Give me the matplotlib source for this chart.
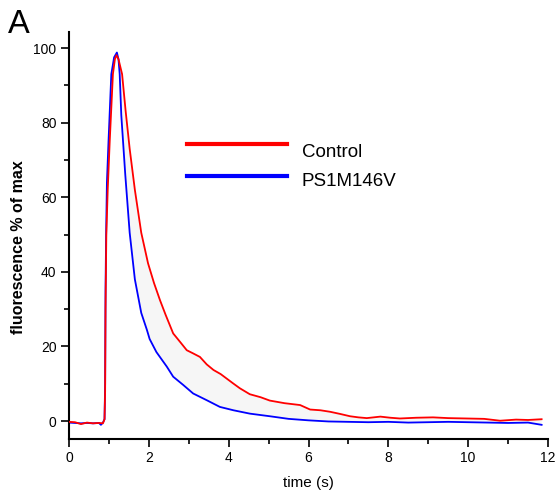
import matplotlib
matplotlib.use("Agg")
import matplotlib.pyplot as plt
import numpy as np

plt.rcParams['font.family'] = ['Liberation Sans', 'DejaVu Sans']

# Control trace (red)
ctrl_t = [0.0, 0.15, 0.3, 0.45, 0.6, 0.75, 0.85, 0.89, 0.905, 0.915, 0.935, 0.97, 1.02,
          1.10, 1.15, 1.19, 1.24, 1.33, 1.42, 1.52, 1.65, 1.81, 1.98, 2.13, 2.28, 2.42,
          2.61, 2.80, 2.95, 3.10, 3.28, 3.45, 3.62, 3.80, 3.95, 4.10, 4.28, 4.53, 4.80,
          5.03, 5.40, 5.79, 6.04, 6.30, 6.54, 6.80, 7.04, 7.25, 7.46, 7.80, 8.05, 8.29,
          8.70, 9.12, 9.50, 9.96, 10.4, 10.8, 11.2, 11.5, 11.84]
ctrl_v = [-0.2, -0.3, -0.8, -0.4, -0.6, -0.5, -0.6, 0.5, 8, 30, 50, 62, 75,
          93, 97, 98.1, 97, 93, 83, 73, 62, 50.5, 42.3, 37, 32.4, 28.5,
          23.5, 21, 19, 18.2, 17.2, 15.2, 13.7, 12.6, 11.4, 10.2, 8.8, 7.2, 6.4,
          5.5, 4.8, 4.3, 3.1, 2.9, 2.5, 1.9, 1.3, 1.0, 0.8, 1.2, 0.9, 0.7,
          0.9, 1.0, 0.8, 0.7, 0.6, 0.1, 0.4, 0.3, 0.5]

# PS1M146V trace (blue)
mut_t = [0.0, 0.15, 0.3, 0.45, 0.6, 0.75, 0.8, 0.85, 0.89, 0.905, 0.915, 0.93, 0.95,
         0.99, 1.06, 1.13, 1.20, 1.24, 1.27, 1.31, 1.41, 1.52, 1.65, 1.81, 1.95, 2.02,
         2.19, 2.45, 2.61, 2.86, 3.11, 3.45, 3.78, 4.12, 4.53, 5.03, 5.50, 6.0, 6.5,
         7.0, 7.5, 8.0, 8.5, 9.0, 9.5, 10.0, 10.5, 11.0, 11.5, 11.84]
mut_v = [-0.4, -0.5, -0.6, -0.5, -0.6, -0.5, -1.0, -0.4, 0.5, 10, 35, 50, 64,
         75, 93, 97.5, 98.8, 97, 93, 82, 66, 50.5, 38, 29, 24.5, 22,
         18.5, 14.6, 11.9, 9.7, 7.4, 5.6, 3.8, 2.9, 2.0, 1.3, 0.6, 0.2, -0.1,
         -0.2, -0.3, -0.2, -0.4, -0.3, -0.2, -0.3, -0.4, -0.5, -0.4, -1.0]

series_names = ["Control", "PS1M146V"]
series_colors = ["#ff0000", "#0000ff"]

x_ticks = [0, 2, 4, 6, 8, 10, 12]
y_ticks = [0, 20, 40, 60, 80, 100]

fig = plt.figure(figsize=(5.56, 4.91), dpi=100)
W, H = 556, 491
ax = fig.add_axes([69 / W, 1 - 439 / H, (548 - 69) / W, (439 - 32) / H])

# shaded area between the two decays
ip_c = int(np.argmax(ctrl_v))
ip_m = int(np.argmax(mut_v))
poly_x = np.concatenate([np.array(ctrl_t[ip_c:]), np.array(mut_t[ip_m:])[::-1]])
poly_y = np.concatenate([np.array(ctrl_v[ip_c:]), np.array(mut_v[ip_m:])[::-1]])
ax.fill(poly_x, poly_y, color='#f6f6f6', lw=0, zorder=1)

ax.plot(ctrl_t, ctrl_v, color=series_colors[0], lw=1.3, zorder=3)
ax.plot(mut_t, mut_v, color=series_colors[1], lw=1.3, zorder=2)

ax.set_xlim(0, 12)
ax.set_ylim(-4.8, 104.3)
ax.set_xticks(x_ticks)
ax.set_yticks(y_ticks)
ax.set_xticks(np.arange(1, 12, 2), minor=True)
ax.set_yticks(np.arange(10, 101, 20), minor=True)
ax.tick_params(which='major', direction='out', length=6, width=1.2, labelsize=10, pad=3)
ax.tick_params(which='minor', direction='out', length=3.5, width=1.2)
for s in ['top', 'right']:
    ax.spines[s].set_visible(False)
for s in ['left', 'bottom']:
    ax.spines[s].set_linewidth(1.5)

ax.set_xlabel('time (s)', fontsize=11)
ax.xaxis.set_label_coords(0.5, -0.091)
ax.set_ylabel('fluorescence % of max', fontsize=11.5, fontweight='bold', va='center')
ax.yaxis.set_label_coords(-0.106, 0.472)

# legend drawn manually
leg_y = [0.725, 0.646]
txt_y = [0.693, 0.622]
for name, col, ly, ty in zip(series_names, series_colors, leg_y, txt_y):
    ax.plot([0.246, 0.455], [ly, ly], color=col, lw=3, transform=ax.transAxes, clip_on=False)
    ax.text(0.486, ty, name, transform=ax.transAxes, fontsize=13.5, va='baseline', ha='left')

fig.text(8 / W, 1 - 33 / H, 'A', fontsize=23.5, va='baseline', ha='left')

fig.savefig('out.png', dpi=100)
